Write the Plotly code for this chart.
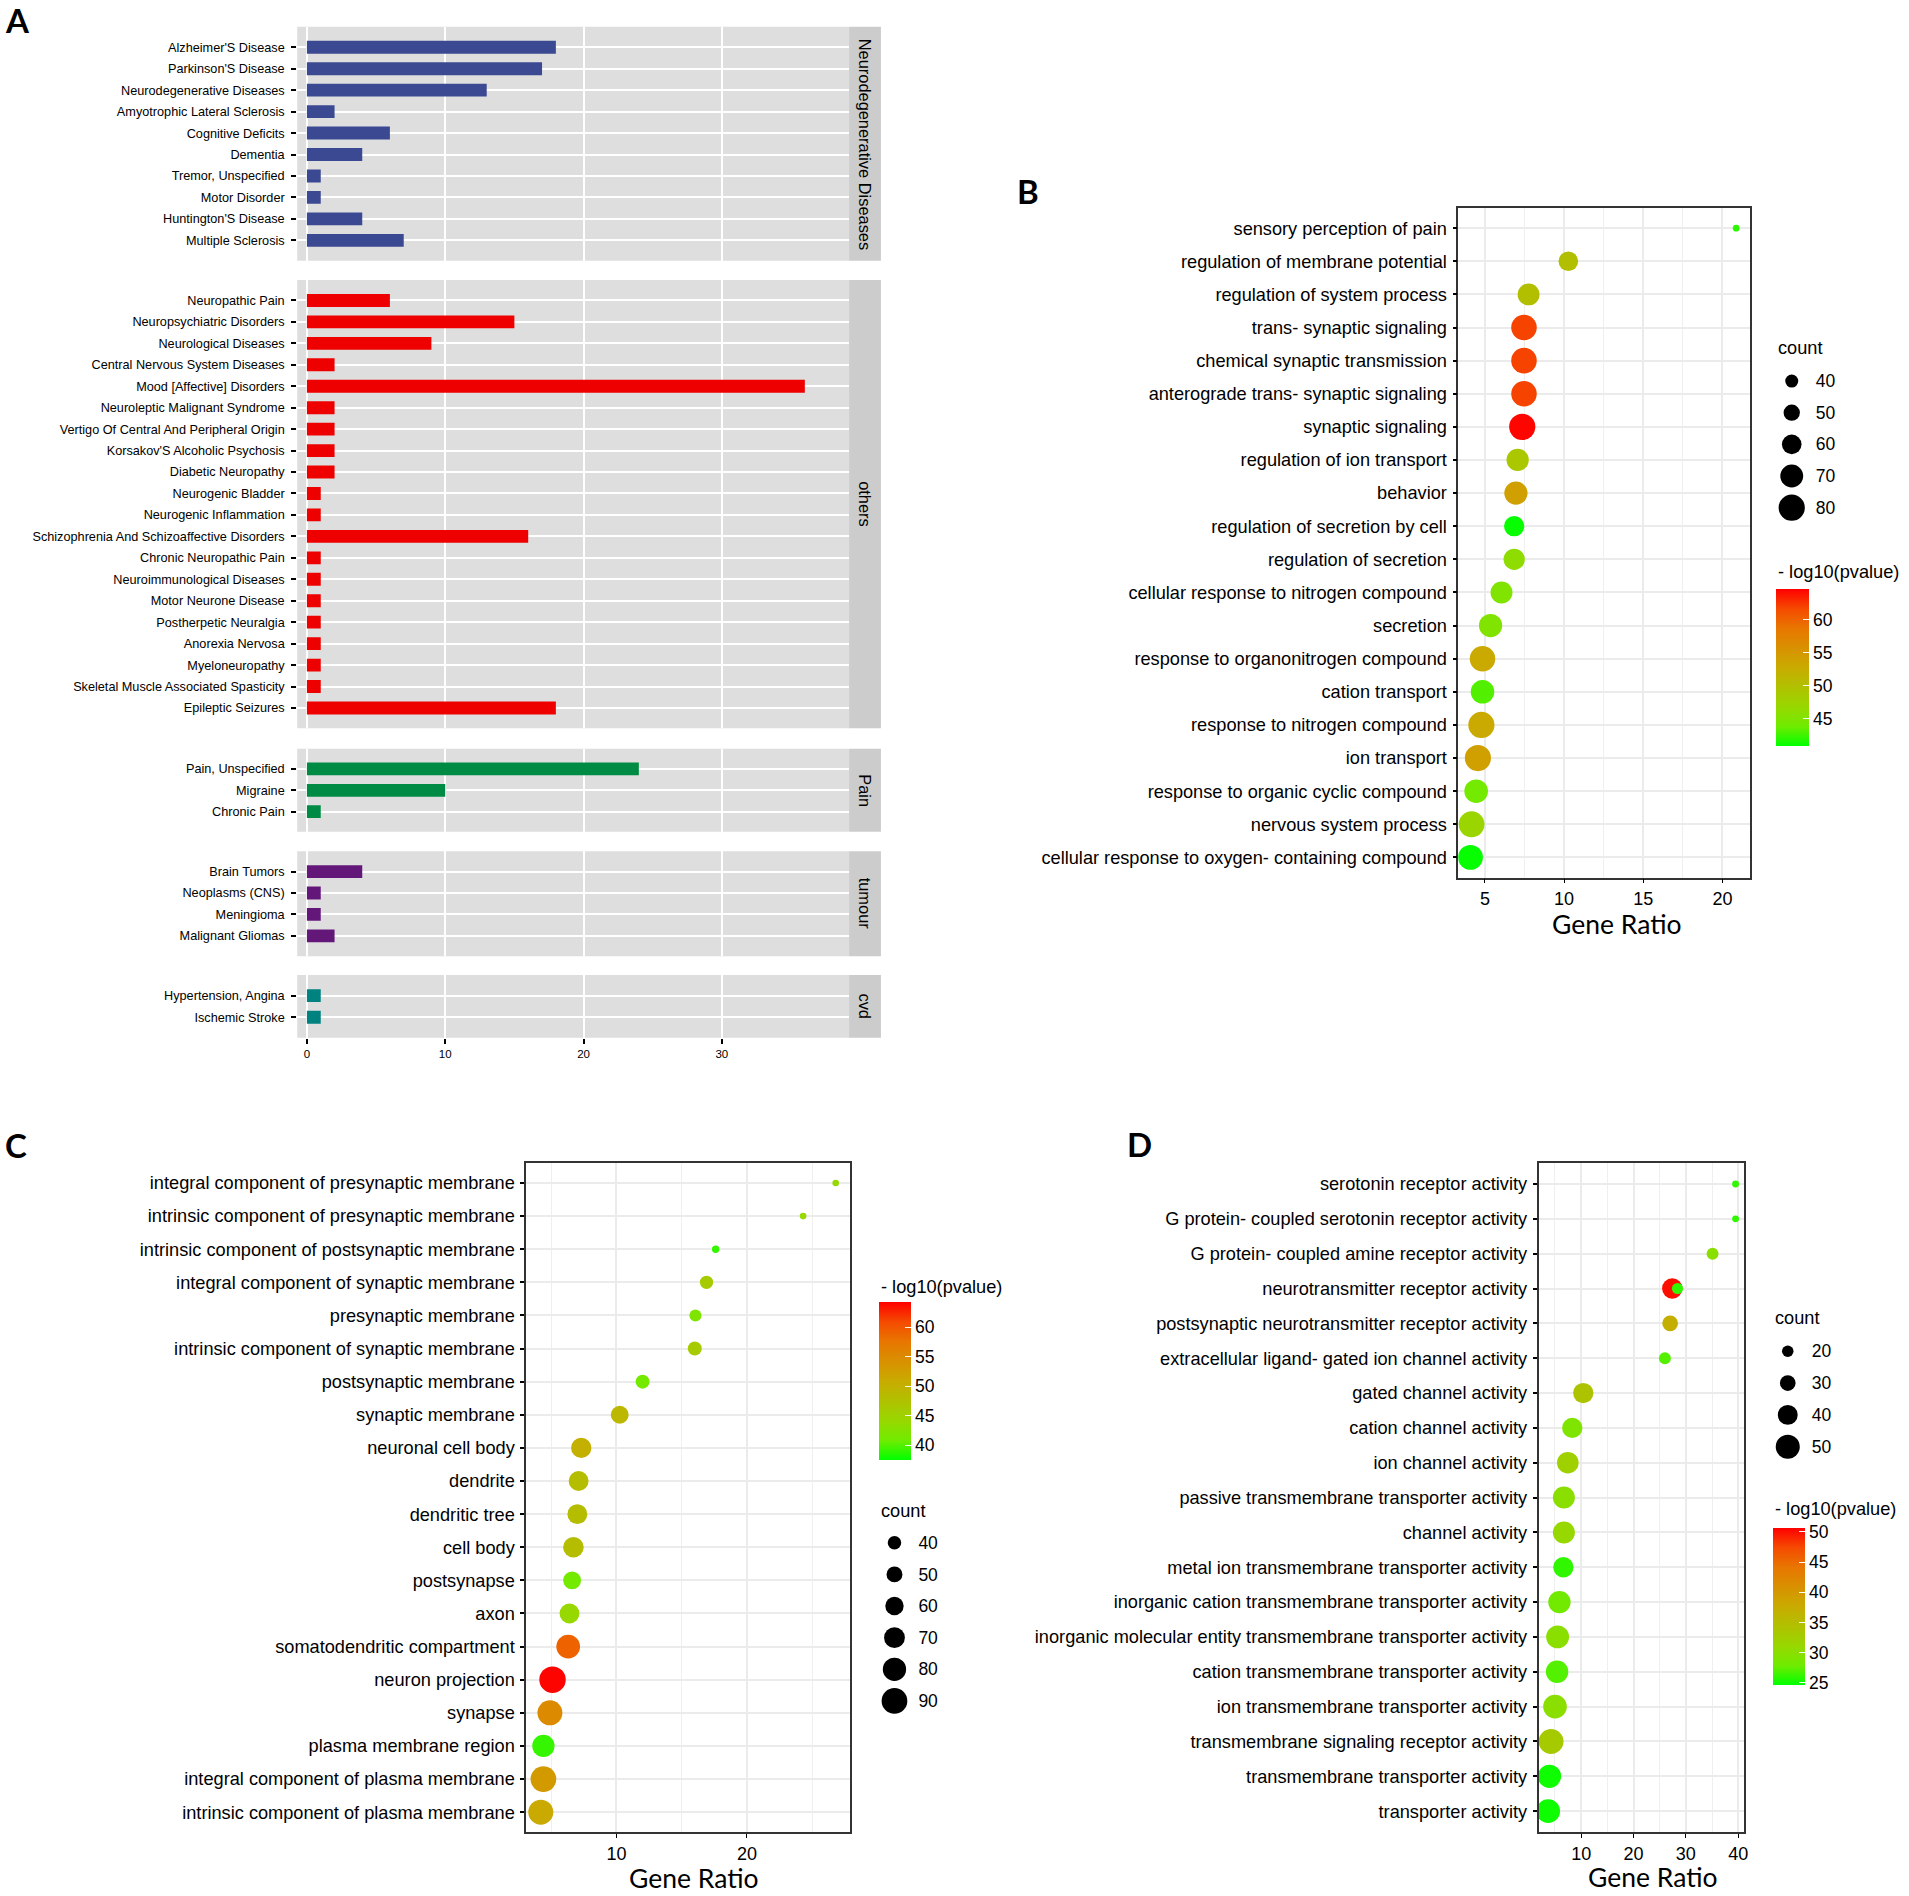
import plotly.graph_objects as go

W = 1909
H = 1896
KX = 0.9975
KY = 0.995

# panel A, one pair of lists per facet
neuro_labels = ["Alzheimer'S Disease", "Parkinson'S Disease", 'Neurodegenerative Diseases', 'Amyotrophic Lateral Sclerosis', 'Cognitive Deficits', 'Dementia', 'Tremor, Unspecified', 'Motor Disorder', "Huntington'S Disease", 'Multiple Sclerosis']
neuro_values = [18, 17, 13, 2, 6, 4, 1, 1, 4, 7]
others_labels = ['Neuropathic Pain', 'Neuropsychiatric Disorders', 'Neurological Diseases', 'Central Nervous System Diseases', 'Mood [Affective] Disorders', 'Neuroleptic Malignant Syndrome', 'Vertigo Of Central And Peripheral Origin', "Korsakov'S Alcoholic Psychosis", 'Diabetic Neuropathy', 'Neurogenic Bladder', 'Neurogenic Inflammation', 'Schizophrenia And Schizoaffective Disorders', 'Chronic Neuropathic Pain', 'Neuroimmunological Diseases', 'Motor Neurone Disease', 'Postherpetic Neuralgia', 'Anorexia Nervosa', 'Myeloneuropathy', 'Skeletal Muscle Associated Spasticity', 'Epileptic Seizures']
others_values = [6, 15, 9, 2, 36, 2, 2, 2, 2, 1, 1, 16, 1, 1, 1, 1, 1, 1, 1, 18]
pain_labels = ['Pain, Unspecified', 'Migraine', 'Chronic Pain']
pain_values = [24, 10, 1]
tumour_labels = ['Brain Tumors', 'Neoplasms (CNS)', 'Meningioma', 'Malignant Gliomas']
tumour_values = [4, 1, 1, 2]
cvd_labels = ['Hypertension, Angina', 'Ischemic Stroke']
cvd_values = [1, 1]
bar_ticks = [0, 10, 20, 30]

# panel B
b_terms = ['sensory perception of pain', 'regulation of membrane potential', 'regulation of system process', 'trans- synaptic signaling', 'chemical synaptic transmission', 'anterograde trans- synaptic signaling', 'synaptic signaling', 'regulation of ion transport', 'behavior', 'regulation of secretion by cell', 'regulation of secretion', 'cellular response to nitrogen compound', 'secretion', 'response to organonitrogen compound', 'cation transport', 'response to nitrogen compound', 'ion transport', 'response to organic cyclic compound', 'nervous system process', 'cellular response to oxygen- containing compound']
b_ratio = [20.87, 10.27, 7.76, 7.47, 7.47, 7.47, 7.36, 7.07, 6.96, 6.85, 6.85, 6.05, 5.36, 4.85, 4.85, 4.78, 4.56, 4.45, 4.16, 4.09]
b_count = [21, 60, 67, 78, 78, 78, 80, 68, 71, 62, 65, 67, 71, 78, 72, 80, 80, 72, 79, 76]
b_logp = [42, 50, 50, 62, 62, 62, 64.5, 49, 54, 41, 46, 45, 45, 53, 43, 53, 54, 44, 47, 41]
b_count_legend = [40, 50, 60, 70, 80]
b_color_ticks = [45, 50, 55, 60]

# panel C
c_terms = ['integral component of presynaptic membrane', 'intrinsic component of presynaptic membrane', 'intrinsic component of postsynaptic membrane', 'integral component of synaptic membrane', 'presynaptic membrane', 'intrinsic component of synaptic membrane', 'postsynaptic membrane', 'synaptic membrane', 'neuronal cell body', 'dendrite', 'dendritic tree', 'cell body', 'postsynapse', 'axon', 'somatodendritic compartment', 'neuron projection', 'synapse', 'plasma membrane region', 'integral component of plasma membrane', 'intrinsic component of plasma membrane']
c_ratio = [26.8, 24.3, 17.6, 16.9, 16.05, 16.0, 12.0, 10.25, 7.3, 7.1, 7.0, 6.7, 6.6, 6.4, 6.3, 5.1, 4.9, 4.4, 4.4, 4.2]
c_count = [12, 12, 15, 39, 34, 42, 42, 58, 68, 66, 66, 69, 58, 66, 82, 93, 87, 76, 90, 87]
c_logp = [44, 44, 39, 46, 42, 46, 41, 49, 50, 48, 48, 48, 41, 44, 59, 64, 55, 39, 53, 51]
c_count_legend = [40, 50, 60, 70, 80, 90]
c_color_ticks = [40, 45, 50, 55, 60]

# panel D, the neurotransmitter row really has two dots
d_terms = ['serotonin receptor activity', 'G protein- coupled serotonin receptor activity', 'G protein- coupled amine receptor activity', 'neurotransmitter receptor activity', 'postsynaptic neurotransmitter receptor activity', 'extracellular ligand- gated ion channel activity', 'gated channel activity', 'cation channel activity', 'ion channel activity', 'passive transmembrane transporter activity', 'channel activity', 'metal ion transmembrane transporter activity', 'inorganic cation transmembrane transporter activity', 'inorganic molecular entity transmembrane transporter activity', 'cation transmembrane transporter activity', 'ion transmembrane transporter activity', 'transmembrane signaling receptor activity', 'transmembrane transporter activity', 'transporter activity']
d_ratio = [39.5, 39.5, 35.1, 27.4, 27.0, 26.0, 10.4, 8.3, 7.45, 6.7, 6.7, 6.6, 5.85, 5.5, 5.4, 5.0, 4.25, 3.95, 3.7]
d_count = [9, 9, 21, 41, 30, 21, 41, 41, 44, 45, 45, 41, 46, 47, 46, 49, 52, 48, 49]
d_logp = [26, 26, 30, 50, 37, 27, 34, 29, 32, 30, 31, 26, 28, 30, 27, 30, 33, 25, 25]
d_extra_term = ['neurotransmitter receptor activity']
d_extra_ratio = [28.4]
d_extra_count = [19]
d_extra_logp = [26]
d_count_legend = [20, 30, 40, 50]
d_color_ticks = [25, 30, 35, 40, 45, 50]

GREEN_RED = [[0, '#00FF00'], [0.125, '#70EB00'], [0.25, '#98D700'], [0.5, '#C9AB00'], [0.75, '#E87600'], [0.875, '#F54A00'], [1, '#FF0000']]
ARIAL = 'Liberation Sans'
TITLE_FONT = 'Lato'

fig = go.Figure()
shapes = []
notes = []
axis_n = 0


def fx(px):
	return px * KX / W


def fy(px):
	return 1 - px * KY / H


def next_axes():
	global axis_n
	axis_n += 1
	suffix = '' if axis_n == 1 else str(axis_n)
	return suffix


def note(text, x, y, size, font=ARIAL, xanchor='left', angle=0, weight='normal'):
	notes.append(dict(text=text, x=fx(x), y=fy(y), xref='paper', yref='paper', showarrow=False, xanchor=xanchor, yanchor='middle', textangle=angle, font=dict(family=font, size=size, color='black', weight=weight)))


def facet(labels, values, color, strip, top, bottom, show_x=False):
	s = next_axes()
	fig.add_trace(go.Bar(x=values, y=labels, orientation='h', width=0.6, marker=dict(color=color, line_width=0), xaxis='x' + s, yaxis='y' + s))
	fig.update_layout({
		'xaxis' + s: dict(domain=[fx(298.6), fx(853)], anchor='y' + s, range=[-0.7, 39.2], tickvals=bar_ticks, showgrid=True, gridcolor='white', gridwidth=2, zeroline=False,
			showticklabels=show_x, ticks='outside' if show_x else '', ticklen=5, tickwidth=1.5, tickcolor='black', tickfont=dict(family=ARIAL, size=11.5, color='black')),
		'yaxis' + s: dict(domain=[fy(bottom), fy(top)], anchor='x' + s, type='category', categoryorder='array', categoryarray=labels, range=[len(labels) - 1 + 0.95, -0.95], showgrid=True, gridcolor='white', gridwidth=2,
			ticks='outside', ticklen=5, tickwidth=1.5, tickcolor='black', ticklabelstandoff=4, tickfont=dict(family=ARIAL, size=12.7, color='black')),
	})
	shapes.append(dict(type='rect', xref='paper', yref='paper', x0=fx(298.6), x1=fx(853), y0=fy(bottom), y1=fy(top), fillcolor='#DEDEDE', line_width=0, layer='below'))
	shapes.append(dict(type='rect', xref='paper', yref='paper', x0=fx(853), x1=fx(885), y0=fy(bottom), y1=fy(top), fillcolor='#CCCCCC', line_width=0, layer='below'))
	note(strip, 869, (top + bottom) / 2, 16.4, xanchor='center', angle=90)


def dots(terms, ratio, count, logp, size_fn, left, right, top, bottom, xrange, xticks, minor_step, crange, cbar, color_ticks):
	s = next_axes()
	marker = dict(size=[size_fn(c) for c in count], color=logp, cmin=crange[0], cmax=crange[1], colorscale=GREEN_RED, line_width=0, opacity=1,
		colorbar=dict(x=fx(cbar['x']), xanchor='left', xpad=0, y=fy(cbar['top']), yanchor='top', ypad=0, lenmode='pixels', len=(cbar['bottom'] - cbar['top']) * KY, thicknessmode='pixels', thickness=cbar['w'], outlinewidth=0,
			tickvals=color_ticks, ticks='inside', ticklen=6, tickwidth=1, tickcolor='white', tickfont=dict(family=ARIAL, size=17.5, color='black')))
	fig.add_trace(go.Scatter(x=ratio, y=terms, mode='markers', marker=marker, xaxis='x' + s, yaxis='y' + s))
	fig.update_layout({
		'xaxis' + s: dict(domain=[fx(left), fx(right)], anchor='y' + s, range=xrange, tickvals=xticks, showgrid=True, gridcolor='#EBEBEB', gridwidth=1.5, zeroline=False, showline=True, mirror=True, linecolor='#333333', linewidth=1.5,
			minor=dict(dtick=minor_step, showgrid=True, gridcolor='#EFEFEF', gridwidth=1), ticks='outside', ticklen=4, tickwidth=1, tickcolor='black', tickfont=dict(family=ARIAL, size=18, color='black')),
		'yaxis' + s: dict(domain=[fy(bottom), fy(top)], anchor='x' + s, type='category', categoryorder='array', categoryarray=terms, range=[len(terms) - 1 + 0.61, -0.61], showgrid=True, gridcolor='#EBEBEB', gridwidth=2, zeroline=False, showline=True, mirror=True, linecolor='#333333', linewidth=1.5,
			ticks='outside', ticklen=4, tickwidth=1.5, tickcolor='black', ticklabelstandoff=2, tickfont=dict(family=ARIAL, size=18.2, color='black')),
	})
	return s


def count_legend(counts, size_fn, cx, y0, step):
	s = next_axes()
	labels = [str(c) for c in counts]
	fig.add_trace(go.Scatter(x=[0] * len(counts), y=labels, mode='markers', marker=dict(size=[size_fn(c) for c in counts], color='black', line_width=0, opacity=1), xaxis='x' + s, yaxis='y' + s))
	fig.update_layout({
		'xaxis' + s: dict(domain=[fx(cx - 17), fx(cx + 17)], anchor='y' + s, range=[-1, 1], visible=False),
		'yaxis' + s: dict(domain=[fy(y0 + step * (len(counts) - 0.5)), fy(y0 - step / 2)], anchor='x' + s, side='right', type='category', categoryorder='array', categoryarray=labels, range=[len(counts) - 0.5, -0.5], showgrid=False, zeroline=False, showline=False, ticks='', ticklabelstandoff=6,
			tickfont=dict(family=ARIAL, size=17.5, color='black')),
	})


facet(neuro_labels, neuro_values, '#3B4992', 'Neurodegenerative Diseases', 27, 262)
facet(others_labels, others_values, '#EE0000', 'others', 281.5, 732)
facet(pain_labels, pain_values, '#008B45', 'Pain', 752.5, 836)
facet(tumour_labels, tumour_values, '#631879', 'tumour', 855.5, 961)
facet(cvd_labels, cvd_values, '#008280', 'cvd', 980, 1043, show_x=True)


def b_size(c):
	return 13 + (c - 40) * 0.33


def c_size(c):
	return 13.5 + (c - 40) * 0.244


def d_size(c):
	return 11.5 + (c - 20) * 0.42


dots(b_terms, b_ratio, b_count, b_logp, b_size, 1465, 1758.5, 209, 882, [3.32, 21.77], [5, 10, 15, 20], 2.5, [40.8, 64.7], dict(x=1784, top=592, bottom=750, w=33), b_color_ticks)
dots(c_terms, c_ratio, c_count, c_logp, c_size, 528.6, 854, 1168.6, 1841.6, [3.08, 27.9], [10, 20], 5, [37.4, 64.2], dict(x=883, top=1309, bottom=1468, w=32), c_color_ticks)
s_d = dots(d_terms, d_ratio, d_count, d_logp, d_size, 1545.6, 1752, 1168.6, 1841.6, [1.85, 41.1], [10, 20, 30, 40], 5, [24.6, 50.6], dict(x=1781, top=1536, bottom=1693.6, w=32), d_color_ticks)
fig.add_trace(go.Scatter(x=d_extra_ratio, y=d_extra_term, mode='markers', marker=dict(size=[d_size(c) for c in d_extra_count], color=d_extra_logp, cmin=24.6, cmax=50.6, colorscale=GREEN_RED, line_width=0, opacity=1), xaxis='x' + s_d, yaxis='y' + s_d))

count_legend(b_count_legend, b_size, 1800, 383, 31.8)
count_legend(c_count_legend, c_size, 898.6, 1550.5, 31.8)
count_legend(d_count_legend, d_size, 1796, 1358, 32)

# titles and panel letters
note('count', 1784, 350, 18.2)
note('- log10(pvalue)', 1784, 575, 18.2)
note('- log10(pvalue)', 883, 1293, 18.2)
note('count', 883, 1518.6, 18.2)
note('count', 1781, 1325, 18.2)
note('- log10(pvalue)', 1781, 1517, 18.2)
note('Gene Ratio', 1624, 929, 26.5, font=TITLE_FONT, xanchor='center')
note('Gene Ratio', 697.5, 1887, 26.5, font=TITLE_FONT, xanchor='center')
note('Gene Ratio', 1660.6, 1886, 26.5, font=TITLE_FONT, xanchor='center')
note('A', 3, 20, 33, font=TITLE_FONT, weight='bold')
note('B', 1020, 192, 33, font=TITLE_FONT, weight='bold')
note('C', 3, 1151, 33, font=TITLE_FONT, weight='bold')
note('D', 1130, 1150, 33, font=TITLE_FONT, weight='bold')

fig.update_layout(width=W, height=H, margin=dict(l=0, r=0, t=0, b=0), paper_bgcolor='white', plot_bgcolor='rgba(0,0,0,0)', showlegend=False, shapes=shapes, annotations=notes)

fig.write_html('out.html', config={'displayModeBar': False}, post_script="document.body.style.margin='0';")
